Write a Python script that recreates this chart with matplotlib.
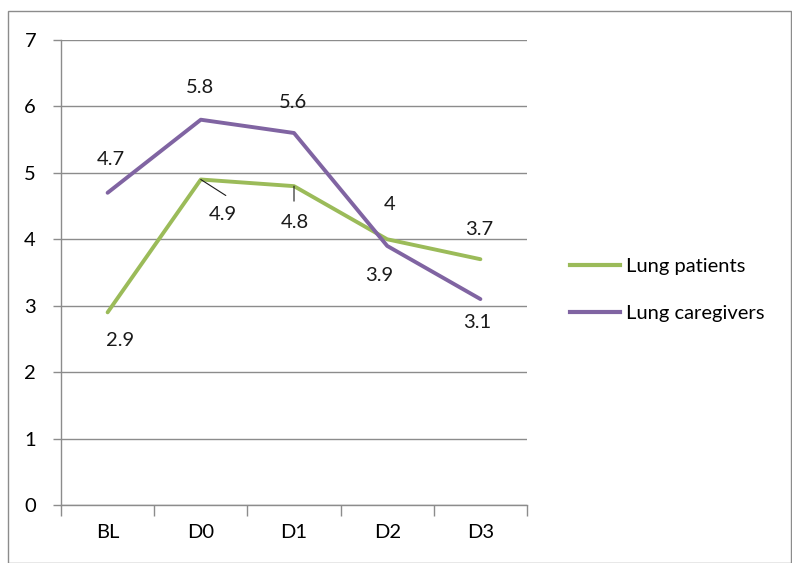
import matplotlib
matplotlib.use("Agg")
import matplotlib.pyplot as plt
from matplotlib.patches import Rectangle
from matplotlib.lines import Line2D

categories = ["BL", "D0", "D1", "D2", "D3"]
patients = [2.9, 4.9, 4.8, 4.0, 3.7]
caregivers = [4.7, 5.8, 5.6, 3.9, 3.1]
patient_labels = ["2.9", "4.9", "4.8", "4", "3.7"]
caregiver_labels = ["4.7", "5.8", "5.6", "3.9", "3.1"]
yticks = [0, 1, 2, 3, 4, 5, 6, 7]

plt.rcParams['font.family'] = ['Lato', 'DejaVu Sans']
GREEN = "#9BBB59"
PURPLE = "#8064A2"
GRID = "#8c8c8c"
FS = 14.5

fig = plt.figure(figsize=(7.92, 5.63), dpi=100)
W, H = 792, 563
fig.patches.append(Rectangle((8 / W, 0.0), (W - 9) / W, (H - 10) / H - 0.0015,
                             transform=fig.transFigure, fill=False,
                             edgecolor="#8c8c8c", linewidth=1.0))
ax = fig.add_axes([61 / W, 58 / H, (527 - 61) / W, (505 - 40) / H])

x = list(range(len(categories)))
ax.plot(x, patients, color=GREEN, linewidth=2.8, solid_capstyle="round", label="Lung patients", zorder=3)
ax.plot(x, caregivers, color=PURPLE, linewidth=2.8, solid_capstyle="round", label="Lung caregivers", zorder=3)

ax.set_xlim(-0.5, len(categories) - 0.5)
ax.set_ylim(0, 7)
ax.set_yticks(yticks)
ax.set_xticks([i - 0.5 for i in range(len(categories) + 1)], minor=False)
ax.set_xticklabels([])
ax.set_xticks(x, minor=True)
ax.set_xticklabels(categories, minor=True)
ax.tick_params(axis="x", which="minor", length=0, pad=14, labelsize=FS)
ax.tick_params(axis="x", which="major", length=8, color=GRID, width=1)
ax.tick_params(axis="y", length=6, color=GRID, width=1, pad=12, labelsize=FS)
ax.yaxis.grid(True, color=GRID, linewidth=1)
ax.set_axisbelow(True)
for s in ["top", "right"]:
    ax.spines[s].set_visible(False)
for s in ["left", "bottom"]:
    ax.spines[s].set_color(GRID)
    ax.spines[s].set_linewidth(1)

# data labels (offsets in pixels)
p_off = [(12, -28), (22, -35), (1, -36), (2, 35), (-1, 30)]
c_off = [(3, 33), (-1, 32), (-1, 31), (-8, -30), (-3, -23)]
for i in range(len(categories)):
    ax.annotate(patient_labels[i], (x[i], patients[i]), xytext=p_off[i], textcoords="offset pixels",
                ha="center", va="center", fontsize=FS, color="#1a1a1a")
    ax.annotate(caregiver_labels[i], (x[i], caregivers[i]), xytext=c_off[i], textcoords="offset pixels",
                ha="center", va="center", fontsize=FS, color="#1a1a1a")

# leader lines
ax.annotate("", (x[1], patients[1]), xytext=(25, -16), textcoords="offset pixels",
            arrowprops=dict(arrowstyle="-", color="#1a1a1a", lw=0.8, shrinkA=0, shrinkB=0))
ax.annotate("", (x[2], patients[2]), xytext=(0, -15), textcoords="offset pixels",
            arrowprops=dict(arrowstyle="-", color="#1a1a1a", lw=0.8, shrinkA=0, shrinkB=0))

handles = [Line2D([], [], color=GREEN, linewidth=3), Line2D([], [], color=PURPLE, linewidth=3)]
fig.legend(handles, ["Lung patients", "Lung caregivers"], loc="center left",
           bbox_to_anchor=(552 / W, 1 - 290 / H), frameon=False, fontsize=FS,
           handlelength=2.5, handletextpad=0.25, labelspacing=1.45)

fig.savefig("out.png", dpi=100)
